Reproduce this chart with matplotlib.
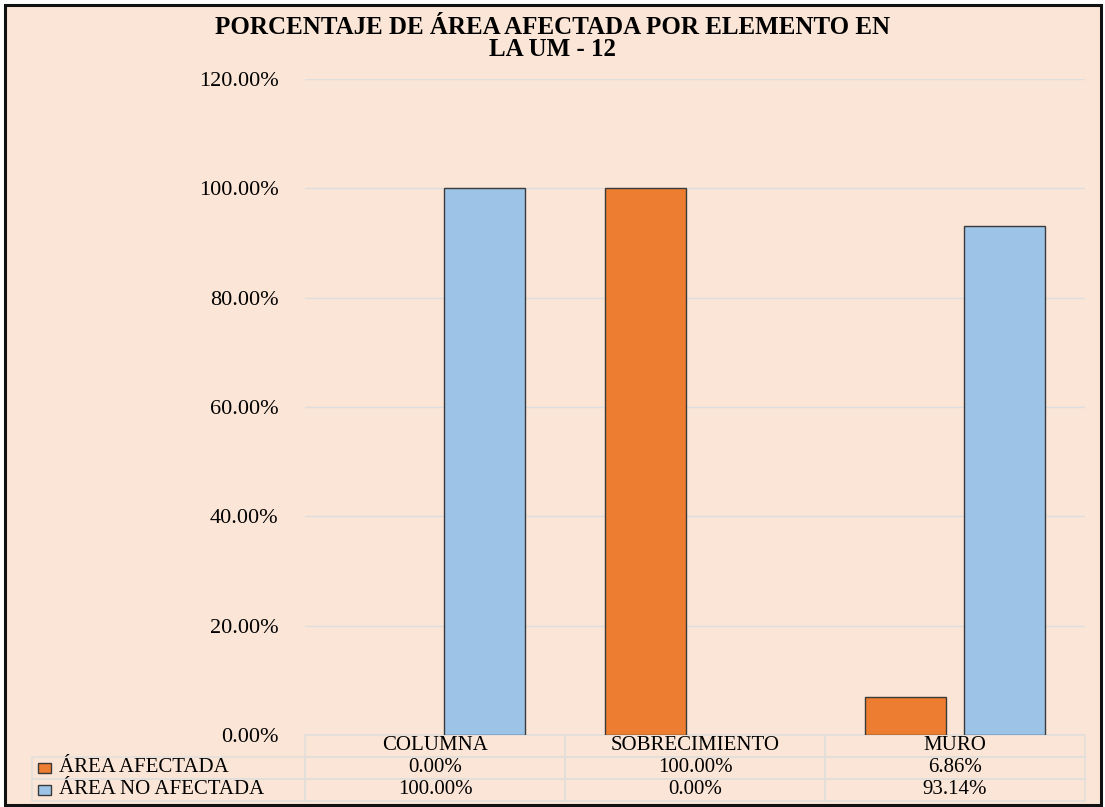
import matplotlib
matplotlib.use('Agg')
import matplotlib.pyplot as plt
from matplotlib.patches import Rectangle
from matplotlib.ticker import PercentFormatter
import numpy as np

# data
CATEGORIES = ['COLUMNA', 'SOBRECIMIENTO', 'MURO']
SERIES = ['ÁREA AFECTADA', 'ÁREA NO AFECTADA']
AFECTADA = [0.00, 100.00, 6.86]
NO_AFECTADA = [100.00, 0.00, 93.14]
Y_TICKS = [0, 20, 40, 60, 80, 100, 120]
TITLE = 'PORCENTAJE DE ÁREA AFECTADA POR ELEMENTO EN\nLA UM - 12'

COLORS = ['#ED7D31', '#9DC3E6']
BG = '#FBE5D6'
GRID = '#DEDEDE'
LINE = '#E2DEDB'
EDGE = '#3A3A3A'

W, H = 1105, 807
OUTPUT_FILE = 'out.png'

plt.rcParams['font.family'] = ['Liberation Serif', 'DejaVu Serif']


def px(x0, y_top, w, h):
    """Figure-fraction box from pixel coords measured from the top left."""
    return [x0 / W, 1 - (y_top + h) / H, w / W, h / H]


def generate_graph():
    fig = plt.figure(figsize=(W / 100, H / 100), dpi=100)
    fig.patch.set_facecolor('white')

    # peach chart area with dark frame
    l, b, w, h = px(5, 5, 1096, 800)
    fig.add_artist(Rectangle((l, b), w, h, transform=fig.transFigure,
                             facecolor=BG, edgecolor='#111111',
                             linewidth=2.2, zorder=-1))

    ax = fig.add_axes(px(305, 79, 780, 656))
    ax.set_facecolor('none')

    x = np.arange(len(CATEGORIES))
    bar_w, off = 0.31, 0.19
    for vals, color, name, shift in [(AFECTADA, COLORS[0], SERIES[0], -off),
                                     (NO_AFECTADA, COLORS[1], SERIES[1], off)]:
        # zero bars get no outline, like Excel
        edges = [EDGE if v > 0 else 'none' for v in vals]
        ax.bar(x + shift, vals, bar_w, color=color, edgecolor=edges,
               linewidth=1.0, zorder=3, label=name)

    ax.set_xlim(-0.5, len(CATEGORIES) - 0.5)
    ax.set_ylim(0, 120)
    ax.set_yticks(Y_TICKS)
    ax.yaxis.set_major_formatter(PercentFormatter(decimals=2))
    ax.set_xticks([])
    ax.grid(axis='y', color=GRID, linewidth=1.0)
    ax.set_axisbelow(True)
    for s in ax.spines.values():
        s.set_visible(False)
    ax.tick_params(axis='y', length=0, pad=19, labelsize=16, labelcolor='black')

    # data table under the bars
    rows = [[SERIES[0]] + [f'{v:.2f}%' for v in AFECTADA],
            [SERIES[1]] + [f'{v:.2f}%' for v in NO_AFECTADA]]
    tbl = ax.table(cellText=rows, colLabels=[''] + CATEGORIES,
                   colWidths=[273, 260, 260, 260], cellLoc='center',
                   bbox=[-273 / 780, -66 / 656, 1053 / 780, 66 / 656])
    tbl.auto_set_font_size(False)
    tbl.set_fontsize(15)
    for (r, c), cell in tbl.get_celld().items():
        cell.set_facecolor('none')
        cell.set_edgecolor(LINE)
        cell.set_linewidth(1.2)
        if c == 0:
            cell.set_text_props(ha='left')
            if r == 0:
                cell.set_edgecolor('none')

    # legend keys in the row label cells
    for i, color in enumerate(COLORS):
        l, b, w, h = px(38, 763 + 22 * i, 13, 10)
        fig.add_artist(Rectangle((l, b), w, h, transform=fig.transFigure,
                                 facecolor=color, edgecolor=EDGE,
                                 linewidth=1.0))

    fig.text(0.5, 1 - 16 / H, TITLE, ha='center', va='top', fontsize=18,
             fontweight='bold', linespacing=0.92)

    fig.savefig(OUTPUT_FILE, dpi=100, facecolor=fig.get_facecolor())


if __name__ == "__main__":
    generate_graph()
